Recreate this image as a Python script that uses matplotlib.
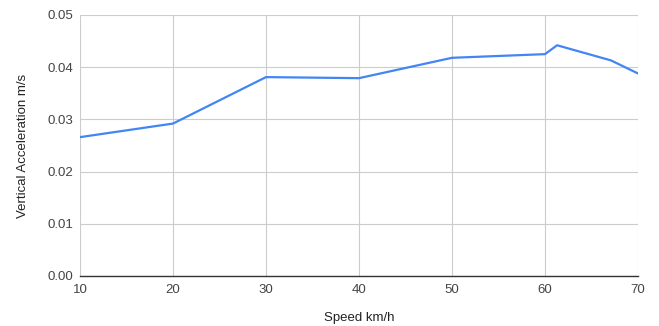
import matplotlib.pyplot as plt

plt.rcParams['font.family'] = ['Liberation Sans', 'DejaVu Sans']

speed = [10, 20, 30, 40, 50, 60, 61.3, 67.1, 70]
accel = [0.0266, 0.0292, 0.0381, 0.0379, 0.0418, 0.0425, 0.0442, 0.0413, 0.0388]

xticks = [10, 20, 30, 40, 50, 60, 70]
yticks = [0.00, 0.01, 0.02, 0.03, 0.04, 0.05]

fig = plt.figure(figsize=(6.59, 3.26), dpi=100)
ax = fig.add_axes([0.1214, 0.1534, 0.8467, 0.8006])

ax.plot(speed, accel, color="#4285F4", linewidth=1.6, solid_joinstyle="round", zorder=3)

ax.set_xlim(10, 70)
ax.set_ylim(0, 0.05)
ax.set_xticks(xticks)
ax.set_yticks(yticks)
ax.set_yticklabels([f"{v:.2f}" for v in yticks])
ax.tick_params(length=0, labelsize=9.5, colors="#444444", pad=6)
ax.tick_params(axis="y", pad=5)

ax.grid(True, color="#cccccc", linewidth=0.8)
for side in ["top", "right", "left"]:
    ax.spines[side].set_visible(False)
ax.spines["bottom"].set_color("#333333")
ax.spines["bottom"].set_linewidth(1.0)

ax.set_xlabel("Speed km/h", fontsize=9.5, color="#222222", labelpad=11)
ax.set_ylabel("Vertical Acceleration m/s", fontsize=9.5, color="#222222", labelpad=13)

plt.savefig("out.png", dpi=100)
